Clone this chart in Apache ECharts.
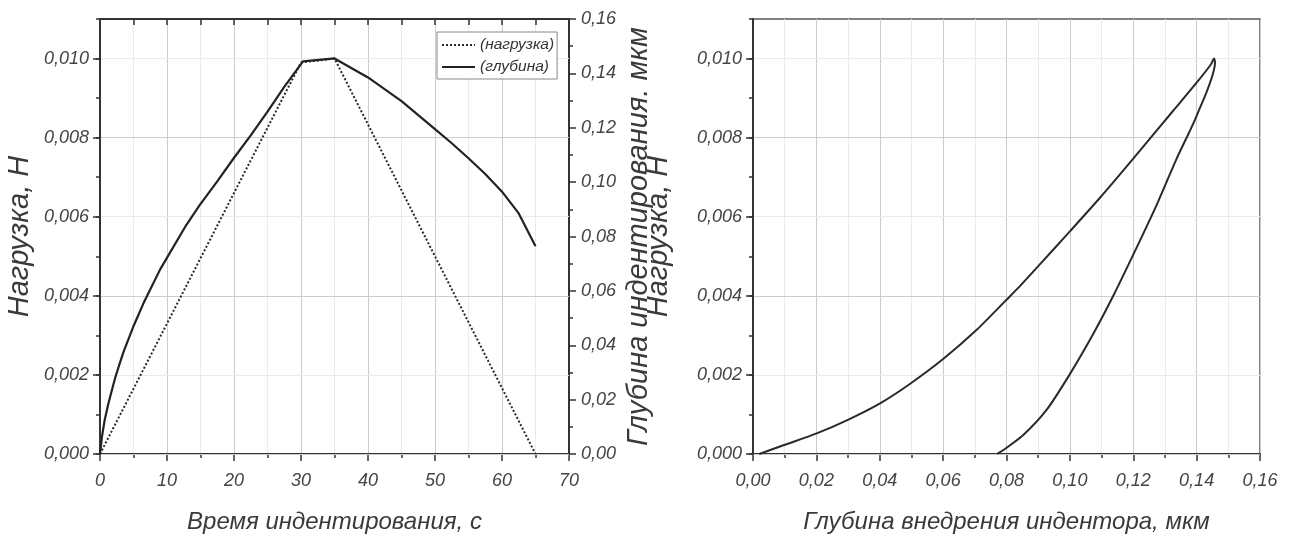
<!DOCTYPE html>
<html>
<head>
<meta charset="utf-8">
<script src="https://cdn.jsdelivr.net/npm/echarts@6/dist/echarts.min.js"></script>
<style>
html,body{margin:0;padding:0;background:#fff;}
#c{width:1293px;height:539px;}
</style>
</head>
<body>
<div id="c"></div>
<script>
// ---- Left chart: load (dotted) and depth (solid) vs time ----
const loadTime  = [0, 10, 20, 30, 35, 50, 65];
const loadForce = [0, 0.0033, 0.0066, 0.0099, 0.0100, 0.0050, 0];

const depthTime  = [0, 0.3, 0.7, 1.2, 1.7, 2.24, 2.8, 3.5, 5, 6.5, 9, 12.9, 14.9, 17.5, 19.9, 22.5, 24.9, 27.5, 30.3, 35, 40, 45, 50, 52.5, 55, 57.5, 60, 62.5, 65];
const depthValue = [0, 0.0065, 0.0125, 0.0180, 0.0228, 0.0278, 0.0322, 0.0375, 0.0470, 0.0555, 0.0680, 0.0843, 0.0916, 0.1003, 0.1086, 0.1172, 0.1256, 0.1350, 0.1444, 0.1455, 0.1385, 0.1298, 0.1195, 0.1143, 0.1088, 0.1030, 0.0965, 0.0885, 0.0764];

// ---- Right chart: load vs depth (loading then unloading) ----
const loadingDepth = [0.002, 0.0096, 0.0201, 0.0296, 0.0401, 0.0495, 0.060, 0.0706, 0.080, 0.0843, 0.0906, 0.100, 0.1095, 0.120, 0.1326, 0.140, 0.1445, 0.1455];
const loadingForce = [0, 0.00022, 0.00052, 0.00085, 0.00128, 0.00177, 0.00240, 0.00314, 0.00390, 0.00425, 0.00480, 0.00563, 0.00648, 0.00747, 0.00868, 0.00939, 0.00985, 0.0100];
const unloadingDepth = [0.1458, 0.140, 0.1337, 0.1274, 0.120, 0.1137, 0.1074, 0.100, 0.0927, 0.0853, 0.079, 0.0770];
const unloadingForce = [0.0099, 0.00855, 0.00747, 0.0063, 0.00504, 0.00400, 0.00304, 0.00202, 0.00112, 0.00048, 0.00010, 0];

// ---- Axis ticks / labels ----
const forceMajorTicks = [0, 0.002, 0.004, 0.006, 0.008, 0.010];
const namesText = {
  leftX: 'Время индентирования, с',
  leftY: 'Нагрузка, Н',
  leftY2: 'Глубина индентирования. мкм',
  rightX: 'Глубина внедрения индентора, мкм',
  rightY: 'Нагрузка, Н'
};
const legendNames = ['(нагрузка)', '(глубина)'];

const FONT = '"Liberation Sans", Arial, sans-serif';
const labelStyle = {fontStyle: 'italic', fontSize: 18, color: '#454545', fontFamily: FONT};
const nameStyleX = {fontStyle: 'italic', fontSize: 24, color: '#3a3a3a', fontFamily: FONT};
const nameStyleY = {fontStyle: 'italic', fontSize: 29, color: '#3a3a3a', fontFamily: FONT};
const AX = '#333';
const MAJ = '#cdcdcd';
const MIN = '#ebebeb';

const comma = (d) => (v) => v.toFixed(d).replace('.', ',');
const zip = (a, b) => a.map((x, i) => [x, b[i]]);

function forceAxisMain(grid, name, gap) {
  return {
    type: 'value', gridIndex: grid, position: 'left', min: 0, max: 0.011, interval: 0.001,
    name: name, nameLocation: 'middle', nameGap: gap, nameTextStyle: nameStyleY,
    axisLine: {show: true, onZero: false, lineStyle: {color: AX, width: 2}},
    axisTick: {show: true, length: 7, customValues: forceMajorTicks, lineStyle: {color: AX, width: 1.5}},
    axisLabel: {show: true, customValues: forceMajorTicks, margin: 11, formatter: comma(3), ...labelStyle},
    splitLine: {show: true, lineStyle: {color: [MAJ, MIN], width: 1}},
    z: 3
  };
}
function forceAxisMinor(grid) {
  return {
    type: 'value', gridIndex: grid, position: 'left', min: 0, max: 0.011, interval: 0.001,
    axisLine: {show: false}, axisLabel: {show: false}, splitLine: {show: false},
    axisTick: {show: true, length: 4, lineStyle: {color: AX, width: 1.5}}
  };
}

const option = {
  animation: false,
  backgroundColor: '#fff',
  grid: [
    {left: 100, top: 19, width: 469, height: 439, show: false},
    {left: 753, top: 19, width: 507, height: 439, show: true, borderColor: '#555', borderWidth: 1.5, backgroundColor: 'transparent'}
  ],
  legend: {
    data: legendNames, orient: 'vertical', left: 437, top: 32,
    itemWidth: 33, itemHeight: 10, itemGap: 6,
    borderColor: '#888', borderWidth: 1, padding: [5, 3, 4, 4],
    itemStyle: {color: 'transparent', borderColor: 'transparent', borderWidth: 0, opacity: 0},
    textStyle: {fontStyle: 'italic', fontSize: 15.5, color: '#333', fontFamily: FONT},
    backgroundColor: '#fff'
  },
  xAxis: [
    {
      type: 'value', gridIndex: 0, position: 'bottom', min: 0, max: 70, interval: 10,
      name: namesText.leftX, nameLocation: 'middle', nameGap: 56, nameTextStyle: nameStyleX,
      axisLine: {show: true, onZero: false, lineStyle: {color: AX, width: 2}},
      axisTick: {show: true, length: 7, lineStyle: {color: AX, width: 1.5}},
      minorTick: {show: true, splitNumber: 2, length: 4, lineStyle: {color: AX, width: 1.5}},
      axisLabel: {margin: 18, ...labelStyle},
      splitLine: {show: true, lineStyle: {color: MAJ}},
      minorSplitLine: {show: true, lineStyle: {color: MIN}}
    },
    {
      type: 'value', gridIndex: 0, position: 'top', min: 0, max: 70, interval: 5,
      axisLine: {show: true, onZero: false, lineStyle: {color: AX, width: 2}},
      axisTick: {show: true, inside: true, length: 6, lineStyle: {color: AX, width: 1.5}},
      axisLabel: {show: false}, splitLine: {show: false}
    },
    {
      type: 'value', gridIndex: 1, position: 'bottom', min: 0, max: 0.16, interval: 0.02,
      name: namesText.rightX, nameLocation: 'middle', nameGap: 56, nameTextStyle: nameStyleX,
      axisLine: {show: true, onZero: false, lineStyle: {color: AX, width: 2}},
      axisTick: {show: true, length: 7, lineStyle: {color: AX, width: 1.5}},
      minorTick: {show: true, splitNumber: 2, length: 4, lineStyle: {color: AX, width: 1.5}},
      axisLabel: {margin: 18, formatter: comma(2), ...labelStyle},
      splitLine: {show: true, lineStyle: {color: MAJ}},
      minorSplitLine: {show: true, lineStyle: {color: MIN}}
    }
  ],
  yAxis: [
    forceAxisMain(0, namesText.leftY, 66),
    forceAxisMinor(0),
    {
      type: 'value', gridIndex: 0, position: 'right', min: 0, max: 0.16, interval: 0.02,
      name: namesText.leftY2, nameLocation: 'middle', nameGap: 55, nameTextStyle: nameStyleY,
      axisLine: {show: true, onZero: false, lineStyle: {color: AX, width: 2}},
      axisTick: {show: true, length: 7, lineStyle: {color: AX, width: 1.5}},
      minorTick: {show: true, splitNumber: 2, length: 4, lineStyle: {color: AX, width: 1.5}},
      axisLabel: {margin: 12, formatter: comma(2), ...labelStyle},
      splitLine: {show: false}
    },
    forceAxisMain(1, namesText.rightY, 80),
    forceAxisMinor(1)
  ],
  series: [
    {
      name: legendNames[0], type: 'line', xAxisIndex: 0, yAxisIndex: 0,
      data: zip(loadTime, loadForce), symbol: 'none',
      lineStyle: {color: '#2a2a2a', width: 2, type: 'dotted'}, itemStyle: {color: '#2a2a2a'}, z: 4
    },
    {
      name: legendNames[1], type: 'line', xAxisIndex: 0, yAxisIndex: 2,
      data: zip(depthTime, depthValue), symbol: 'none',
      lineStyle: {color: '#222', width: 2.2, type: 'solid'}, itemStyle: {color: '#222'}, z: 4
    },
    {
      name: 'P-h', type: 'line', xAxisIndex: 2, yAxisIndex: 3,
      data: zip(loadingDepth.concat(unloadingDepth), loadingForce.concat(unloadingForce)), symbol: 'none',
      smooth: 0.25,
      lineStyle: {color: '#2a2a2a', width: 2}, itemStyle: {color: '#2a2a2a'}, z: 4
    }
  ]
};

const chart = echarts.init(document.getElementById('c'), null, {renderer: 'canvas'});
chart.setOption(option);
</script>
</body>
</html>
